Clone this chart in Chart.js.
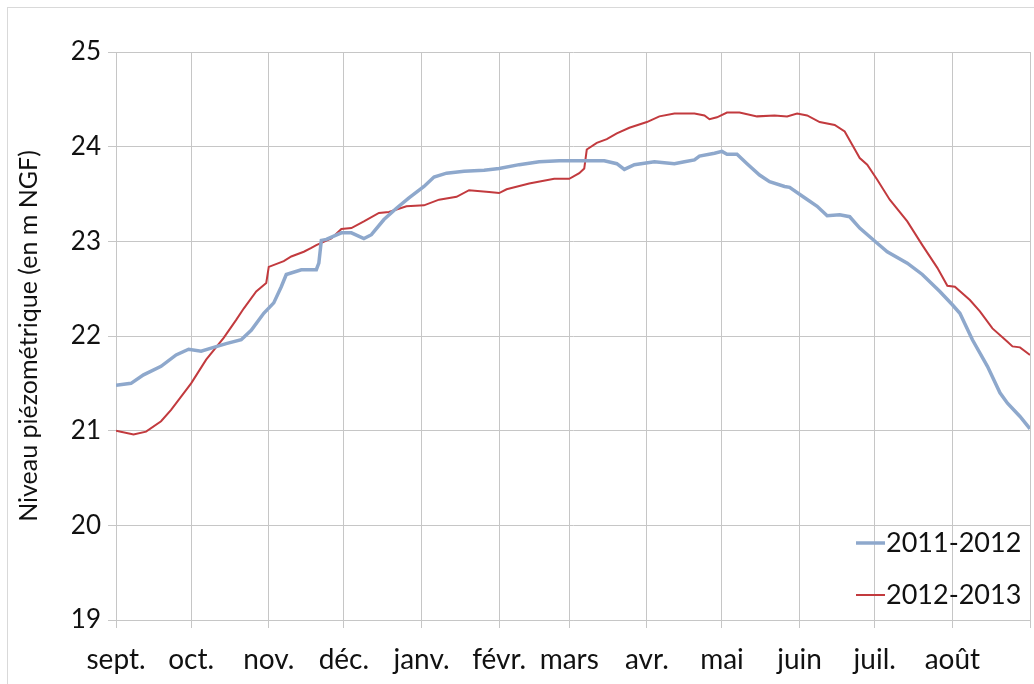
<!DOCTYPE html>
<html>
<head>
<meta charset="utf-8">
<script src="https://cdn.jsdelivr.net/npm/chart.js@4"></script>
<style>
  html, body { margin: 0; padding: 0; background: #fff; overflow: hidden; }
  #wrap { position: relative; width: 1034px; height: 684px; }
  #frame { position: absolute; left: 7px; top: 7px; width: 1060px; height: 700px; border: 1px solid #d9d9d9; }
  canvas { position: absolute; left: 0; top: 0; }
</style>
</head>
<body>
<div id="wrap">
  <div id="frame"></div>
  <canvas id="chart" width="1034" height="684"></canvas>
</div>
<script>
// Month ticks (day index from 1 Sept)
const monthStarts = [0, 30, 61, 91, 122, 153, 181, 212, 242, 273, 303, 334, 365];
const monthLabels = ['sept.', 'oct.', 'nov.', 'déc.', 'janv.', 'févr.', 'mars', 'avr.', 'mai', 'juin', 'juil.', 'août', ''];

// 2011-2012 series (day, level in m NGF)
const blueDays = [0,6,11,18,24,29,34,39,44,50,54,59,63,66,68,74,80,81,82,84,90,94,99,102,107,112,117,123,127,132,139,147,153,161,169,177,185,195,200,203,207,215,223,227,231,233,239,242,244,248,252,257,261,267,269,275,280,284,289,293,297,304,308,316,322,329,334,337,342,348,353,356,361,365];
const blueLevels = [21.48,21.50,21.59,21.68,21.80,21.86,21.84,21.88,21.92,21.96,22.06,22.24,22.35,22.52,22.65,22.70,22.70,22.77,23.01,23.02,23.09,23.09,23.03,23.07,23.23,23.35,23.46,23.58,23.68,23.72,23.74,23.75,23.77,23.81,23.84,23.85,23.85,23.85,23.82,23.76,23.81,23.84,23.82,23.84,23.86,23.90,23.93,23.95,23.92,23.92,23.82,23.70,23.63,23.58,23.57,23.46,23.37,23.27,23.28,23.26,23.14,22.98,22.89,22.77,22.65,22.47,22.33,22.24,21.96,21.68,21.40,21.29,21.15,21.02];

// 2012-2013 series
const redDays = [0,7,12,18,22,26,30,36,43,48,51,56,60,61,67,70,75,78,80,86,90,94,99,105,109,116,123,129,136,141,149,153,156,165,175,181,185,187,188,192,196,200,205,212,217,223,231,235,237,240,244,249,256,263,268,272,276,281,287,291,294,297,300,304,309,316,322,328,332,335,341,345,350,356,358,361,365];
const redLevels = [21.00,20.96,20.99,21.10,21.22,21.36,21.50,21.75,21.98,22.17,22.29,22.47,22.56,22.73,22.79,22.84,22.89,22.93,22.96,23.03,23.13,23.14,23.21,23.30,23.31,23.37,23.38,23.44,23.47,23.54,23.52,23.51,23.55,23.61,23.66,23.66,23.72,23.77,23.97,24.04,24.08,24.14,24.20,24.26,24.32,24.35,24.35,24.33,24.29,24.31,24.36,24.36,24.32,24.33,24.32,24.35,24.33,24.26,24.23,24.16,24.02,23.88,23.81,23.65,23.44,23.21,22.96,22.72,22.53,22.52,22.38,22.26,22.08,21.94,21.89,21.88,21.80];

const seriesNames = ['2011-2012', '2012-2013'];
const yTicks = [19, 20, 21, 22, 23, 24, 25];

const FONT = 'Lato, "Open Sans", sans-serif';
const BLUE = '#8EA8CC';
const RED = '#C23A3E';
const GRID = '#c6c6c6';

function toPoints(days, levels){
  return days.map((d, i) => ({ x: d, y: levels[i] }));
}

// legend drawn inside the plot, bottom right
const insideLegend = {
  id: 'insideLegend',
  afterDraw(chart){
    const { ctx, chartArea } = chart;
    const rows = [chartArea.bottom - 77, chartArea.bottom - 25];
    ctx.save();
    ctx.font = '27px ' + FONT;
    ctx.textBaseline = 'middle';
    ctx.fillStyle = '#111';
    chart.data.datasets.forEach((ds, i) => {
      const y = rows[i];
      const x0 = chartArea.right - 174;
      ctx.strokeStyle = ds.borderColor;
      ctx.lineWidth = ds.borderWidth;
      ctx.beginPath();
      ctx.moveTo(x0, y);
      ctx.lineTo(x0 + 29, y);
      ctx.stroke();
      ctx.fillText(ds.label, x0 + 30, y);
    });
    ctx.restore();
  }
};

new Chart(document.getElementById('chart'), {
  type: 'line',
  data: {
    datasets: [
      {
        label: seriesNames[0],
        data: toPoints(blueDays, blueLevels),
        borderColor: BLUE,
        borderWidth: 3.5,
        pointRadius: 0,
        tension: 0
      },
      {
        label: seriesNames[1],
        data: toPoints(redDays, redLevels),
        borderColor: RED,
        borderWidth: 2,
        pointRadius: 0,
        tension: 0
      }
    ]
  },
  options: {
    responsive: false,
    animation: false,
    layout: { padding: { top: 52, right: 4, left: 14, bottom: 0 } },
    plugins: {
      legend: { display: false },
      tooltip: { enabled: false }
    },
    scales: {
      x: {
        type: 'linear',
        min: 0,
        max: 365,
        afterBuildTicks: axis => { axis.ticks = monthStarts.map(v => ({ value: v })); },
        afterFit: axis => {
          axis.height = 64;
          axis.paddingLeft = 0;
          axis.paddingRight = 0;
        },
        grid: { color: GRID, tickLength: 8 },
        border: { color: GRID },
        ticks: {
          autoSkip: false,
          maxRotation: 0,
          padding: 15,
          color: '#111',
          font: { family: FONT, size: 28 },
          callback: v => monthLabels[monthStarts.indexOf(v)]
        }
      },
      y: {
        min: 19,
        max: 25,
        afterBuildTicks: axis => { axis.ticks = yTicks.map(v => ({ value: v })); },
        afterFit: axis => { axis.width = 102; },
        grid: { color: GRID, tickLength: 8 },
        border: { color: GRID },
        title: {
          display: true,
          text: 'Niveau piézométrique (en m NGF)',
          color: '#111',
          font: { family: FONT, size: 25 },
          padding: { top: 0, bottom: 2 }
        },
        ticks: {
          padding: 7,
          color: '#111',
          font: { family: FONT, size: 26 }
        }
      }
    }
  },
  plugins: [insideLegend]
});
</script>
</body>
</html>
